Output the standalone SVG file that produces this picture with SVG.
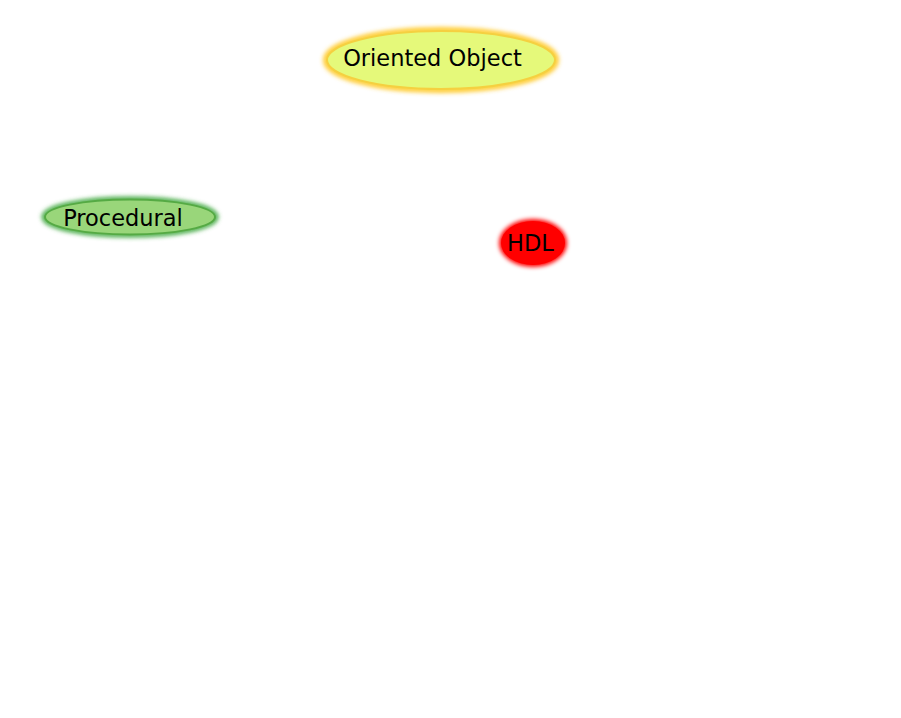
<svg xmlns="http://www.w3.org/2000/svg" width="901" height="718" viewBox="0 0 901 718">
<defs>
<filter id="soft" x="-30%" y="-50%" width="160%" height="200%">
<feGaussianBlur stdDeviation="2"/>
</filter>
</defs>
<style>
text{font-family:"DejaVu Sans",sans-serif;font-size:22.5px;fill:#000;text-anchor:middle}
</style>
<rect width="901" height="718" fill="#fff"/>
<g id="connectors"></g>
<g id="oriented-object">
<ellipse cx="441" cy="60" rx="115" ry="30" fill="none" stroke="#ffcc33" stroke-width="6" filter="url(#soft)"/>
<ellipse cx="441" cy="60" rx="114" ry="29" fill="#e5f97a" stroke="#f5d040" stroke-width="2"/>
<text x="432.5" y="66">Oriented Object</text>
</g>
<g id="procedural">
<ellipse cx="130" cy="217" rx="86" ry="18" fill="none" stroke="#44aa44" stroke-width="5" filter="url(#soft)"/>
<ellipse cx="130" cy="217" rx="85" ry="17.5" fill="#99d67a" stroke="#55aa44" stroke-width="2"/>
<text x="123" y="225.5">Procedural</text>
</g>
<g id="hdl">
<ellipse cx="533" cy="243" rx="34" ry="24" fill="#ff0000" filter="url(#soft)"/>
<ellipse cx="533" cy="243" rx="32" ry="22" fill="#ff0000"/>
<text x="530.5" y="251">HDL</text>
</g>
</svg>
